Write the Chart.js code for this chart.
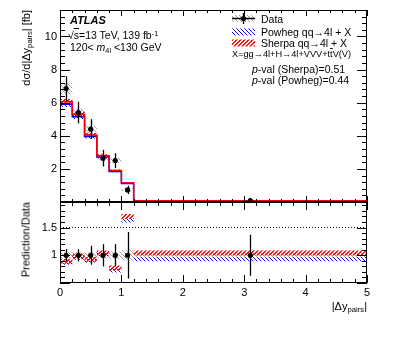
<!DOCTYPE html>
<html lang="en">
<head>
    <meta charset="UTF-8">
    <title>ATLAS |dy pairs|</title>
    <script src="https://cdn.jsdelivr.net/npm/chart.js@4"></script>
    <style>
        body { margin: 0; background: #fff; }
        #wrap { position: relative; width: 399px; height: 337px; font-family: "Liberation Sans", Arial, sans-serif; color: #000; }
        canvas { position: absolute; left: 0; }
        .t { position: absolute; white-space: nowrap; line-height: 1; }
        .t sub { font-size: 70%; vertical-align: -0.3em; line-height: 0; }
        .t sup { font-size: 70%; vertical-align: 0.45em; line-height: 0; }
        .ov { text-decoration: overline; }
        .rot { transform-origin: 0 0; transform: rotate(-90deg) translate(-100%, -50%); }
    </style>
</head>
<body>
<div id="wrap">
    <canvas id="mainChart" width="399" height="204" style="top:0"></canvas>
    <canvas id="ratioChart" width="399" height="137" style="top:200px"></canvas>

    <div class="t" style="left:70px;top:15px;font-size:11px;font-weight:bold;font-style:italic">ATLAS</div>
    <div class="t" style="left:68px;top:30px;font-size:10.5px">√<span class="ov">s</span>=13 TeV, 139 fb<sup>-1</sup></div>
    <div class="t" style="left:70px;top:42px;font-size:10.5px">120&lt; <i>m</i><sub>4l</sub> &lt;130 GeV</div>

    <div class="t" style="left:261px;top:14px;font-size:10.5px">Data</div>
    <div class="t" style="left:261px;top:27px;font-size:10.5px">Powheg qq→4l + X</div>
    <div class="t" style="left:261px;top:38px;font-size:10.5px">Sherpa qq→4l + X</div>
    <div class="t" style="left:232px;top:50px;font-size:9.2px">X=gg→4l+H→4l+VVV+t<span class="ov">t</span>V(V)</div>
    <div class="t" style="left:252px;top:64px;font-size:10.5px"><i>p</i>-val (Sherpa)=0.51</div>
    <div class="t" style="left:252px;top:75px;font-size:10.5px"><i>p</i>-val (Powheg)=0.44</div>

    <div class="t rot" style="left:26px;top:10px;font-size:11px">dσ/d|Δy<sub>pairs</sub>| [fb]</div>
    <div class="t rot" style="left:26px;top:202px;font-size:11px">Prediction/Data</div>
    <div class="t" style="right:32px;top:301px;font-size:11px">|Δy<sub>pairs</sub>|</div>
</div>

<script>
    // bins of |dy_pairs|
    const binEdges = [0, 0.2, 0.4, 0.6, 0.8, 1.0, 1.2, 5.0];
    const binCenters = [0.1, 0.3, 0.5, 0.7, 0.9, 1.1, 3.1];

    // upper panel, fb
    const dataVals = [6.85, 5.4, 4.4, 2.65, 2.5, 0.73, 0.08];
    const dataErr = [0.75, 0.65, 0.6, 0.5, 0.45, 0.25, 0.03];
    const dataSyst = [0.35, 0.25, 0.22, 0.15, 0.15, 0.08, 0.004];
    const sherpaVals = [6.05, 5.3, 4.05, 2.8, 1.9, 1.17, 0.083];
    const sherpaErr = [0.18, 0.15, 0.12, 0.08, 0.06, 0.04, 0.003];
    const powhegVals = [5.9, 5.15, 3.95, 2.72, 1.84, 1.12, 0.075];
    const powhegErr = [0.16, 0.14, 0.11, 0.07, 0.05, 0.03, 0.003];

    // lower panel, prediction / data
    const sherpaRatio = [0.89, 0.98, 0.93, 1.04, 0.77, 1.70, 1.04];
    const powhegRatio = [0.87, 0.96, 0.91, 1.02, 0.73, 1.63, 0.93];
    const sherpaRatioErr = [0.045, 0.045, 0.045, 0.045, 0.045, 0.045, 0.045];
    const powhegRatioErr = [0.04, 0.04, 0.04, 0.04, 0.04, 0.04, 0.04];
    const dataRatio = [1, 1, 1, 1, 1, 1, 1];
    const dataRatioErr = [0.11, 0.11, 0.17, 0.2, 0.2, 0.42, 0.37];
    const dataRatioSyst = [0.05, 0.05, 0.05, 0.06, 0.07, 0.1, 0.05];
    const ratioRefLine = 1.5;

    const mainYTicks = [2, 4, 6, 8, 10];
    const ratioYTicks = [1, 1.5];
    const xTicks = [0, 1, 2, 3, 4, 5];

    const FONT = { family: '"Liberation Sans", Arial, sans-serif', size: 11 };

    // pixel hatch tile, dir > 0 is "/" and dir < 0 is "\"
    function hatch(color, dir, w) {
        const s = 4;
        const c = document.createElement('canvas');
        c.width = s; c.height = s;
        const g = c.getContext('2d');
        g.fillStyle = color;
        for (let i = 0; i < s; i++) {
            for (let j = 0; j < w; j++) {
                const col = (i + j) % s;
                g.fillRect(col, dir > 0 ? s - 1 - i : i, 1, 1);
            }
        }
        return g.createPattern(c, 'repeat');
    }
    const redHatch = hatch('#ff1010', 1, 2);
    const blueHatch = hatch('#1010ff', -1, 1);
    const greyHatch = hatch('#a0a0a0', -1, 1);

    // histogram as stepped points on the bin edges
    function steps(vals) {
        return binEdges.map((e, i) => ({ x: e, y: vals[Math.min(i, vals.length - 1)] }));
    }
    const shift = (vals, err, sgn) => vals.map((v, i) => v + sgn * err[i]);

    function band(vals, err, pattern, order) {
        return [{
            data: steps(shift(vals, err, -1)), stepped: 'before', borderColor: 'transparent',
            pointRadius: 0, fill: false, order: order
        }, {
            data: steps(shift(vals, err, 1)), stepped: 'before', borderColor: 'transparent',
            pointRadius: 0, fill: '-1', backgroundColor: pattern, order: order
        }];
    }

    function points(vals, err) {
        return {
            data: binCenters.map((x, i) => ({ x: x, y: vals[i] })),
            yErr: err, showLine: false, pointRadius: 2.6, pointBackgroundColor: '#000',
            pointBorderColor: '#000', pointBorderWidth: 0, order: 1
        };
    }

    // error bars drawn just before the data markers
    const errorBars = {
        id: 'errorBars',
        beforeDatasetDraw(chart, args) {
            const ds = chart.data.datasets[args.index];
            if (!ds.yErr) return;
            const { ctx, chartArea: a, scales: { x, y } } = chart;
            ctx.save();
            ctx.beginPath();
            ctx.rect(a.left, a.top, a.right - a.left, a.bottom - a.top);
            ctx.clip();
            ctx.strokeStyle = '#000';
            ctx.lineWidth = 1.3;
            ds.data.forEach((p, i) => {
                const px = Math.round(x.getPixelForValue(p.x)) + 0.5;
                ctx.beginPath();
                ctx.moveTo(px, y.getPixelForValue(p.y - ds.yErr[i]));
                ctx.lineTo(px, y.getPixelForValue(p.y + ds.yErr[i]));
                ctx.stroke();
            });
            ctx.restore();
        }
    };

    // ROOT-like frame with inward ticks on all four sides
    function frame(spec) {
        return {
            id: 'frame',
            afterDraw(chart) {
                const { ctx, chartArea: a, scales: { x, y } } = chart;
                ctx.save();
                ctx.strokeStyle = '#000';
                ctx.lineWidth = 1;
                ctx.strokeRect(a.left + 0.5, a.top + 0.5, a.right - a.left - 1, a.bottom - a.top - 1);
                ctx.beginPath();
                const isMajor = (v, m) => Math.abs(v / m - Math.round(v / m)) < 1e-6;
                let n = Math.round((x.max - x.min) / spec.xMinor);
                for (let k = 0; k <= n; k++) {
                    const v = x.min + k * spec.xMinor;
                    const px = Math.round(x.getPixelForValue(v)) + 0.5;
                    const len = isMajor(v, spec.xMajor) ? spec.xMajLen : spec.xMinLen;
                    ctx.moveTo(px, a.bottom); ctx.lineTo(px, a.bottom - len);
                    ctx.moveTo(px, a.top); ctx.lineTo(px, a.top + len);
                }
                const y0 = Math.ceil(y.min / spec.yMinor - 1e-6) * spec.yMinor;
                n = Math.floor((y.max - y0) / spec.yMinor + 1e-6);
                for (let k = 0; k <= n; k++) {
                    const v = y0 + k * spec.yMinor;
                    const py = Math.round(y.getPixelForValue(v)) + 0.5;
                    const len = isMajor(v, spec.yMajor) ? spec.yMajLen : spec.yMinLen;
                    ctx.moveTo(a.left, py); ctx.lineTo(a.left + len, py);
                    ctx.moveTo(a.right, py); ctx.lineTo(a.right - len, py);
                }
                ctx.stroke();
                ctx.restore();
            }
        };
    }

    // legend boxes of the upper panel
    const legendBoxes = {
        id: 'legendBoxes',
        afterDraw(chart) {
            const ctx = chart.ctx;
            ctx.save();
            const box = (top, pat) => { ctx.fillStyle = pat; ctx.fillRect(232, top, 23, 7); };
            box(15, greyHatch);
            box(28.5, blueHatch);
            box(39.5, redHatch);
            ctx.strokeStyle = '#000';
            ctx.lineWidth = 1.3;
            ctx.beginPath();
            ctx.moveTo(232, 18.5); ctx.lineTo(255, 18.5);
            ctx.moveTo(243.5, 13); ctx.lineTo(243.5, 24);
            ctx.stroke();
            ctx.fillStyle = '#000';
            ctx.beginPath();
            ctx.arc(243.5, 18.5, 2.6, 0, Math.PI * 2);
            ctx.fill();
            ctx.restore();
        }
    };

    function scalesFor(yMin, yMax, yTicks, showX) {
        return {
            x: {
                type: 'linear', min: 0, max: 5, display: showX,
                afterBuildTicks: s => { s.ticks = xTicks.map(v => ({ value: v })); },
                afterFit: s => { s.height = showX ? 54 : 0; s.paddingLeft = 0; s.paddingRight = 0; },
                grid: { drawOnChartArea: false, drawTicks: false },
                border: { display: false },
                ticks: { font: FONT, color: '#000', padding: 3, maxRotation: 0, callback: v => String(v) }
            },
            y: {
                type: 'linear', min: yMin, max: yMax,
                afterBuildTicks: s => { s.ticks = yTicks.map(v => ({ value: v })); },
                afterFit: s => { s.width = 60; s.paddingTop = 0; s.paddingBottom = 0; },
                grid: { drawOnChartArea: false, drawTicks: false },
                border: { display: false },
                ticks: { font: FONT, color: '#000', padding: 3, callback: v => String(v) }
            }
        };
    }

    const common = {
        responsive: false,
        animation: false,
        events: [],
        plugins: { legend: { display: false }, tooltip: { enabled: false } }
    };

    new Chart(document.getElementById('mainChart'), {
        type: 'line',
        data: {
            datasets: [
                ...band(dataVals, dataSyst, greyHatch, 10),
                ...band(powhegVals, powhegErr, blueHatch, 9),
                ...band(sherpaVals, sherpaErr, redHatch, 8),
                { data: steps(powhegVals), stepped: 'before', borderColor: '#0000ff', borderWidth: 1.5, pointRadius: 0, fill: false, order: 5 },
                { data: steps(sherpaVals), stepped: 'before', borderColor: '#ff0000', borderWidth: 1.5, pointRadius: 0, fill: false, order: 4 },
                points(dataVals, dataErr)
            ]
        },
        options: {
            ...common,
            layout: { autoPadding: false, padding: { top: 10, right: 32, bottom: 2, left: 0 } },
            scales: scalesFor(0, 11.6, mainYTicks, false)
        },
        plugins: [errorBars, frame({ xMinor: 0.2, xMajor: 1, xMajLen: 6, xMinLen: 3, yMinor: 0.4, yMajor: 2, yMajLen: 10, yMinLen: 5 }), legendBoxes]
    });

    new Chart(document.getElementById('ratioChart'), {
        type: 'line',
        data: {
            datasets: [
                ...band(dataRatio, dataRatioSyst, greyHatch, 10),
                ...band(powhegRatio, powhegRatioErr, blueHatch, 9),
                ...band(sherpaRatio, sherpaRatioErr, redHatch, 8),
                { data: [{ x: 0, y: ratioRefLine }, { x: 5, y: ratioRefLine }], borderColor: '#000', borderWidth: 1, borderDash: [1, 2], pointRadius: 0, fill: false, order: 6 },
                points(dataRatio, dataRatioErr)
            ]
        },
        options: {
            ...common,
            layout: { autoPadding: false, padding: { top: 2, right: 32, bottom: 0, left: 0 } },
            scales: scalesFor(0.5, 1.96, ratioYTicks, true)
        },
        plugins: [errorBars, frame({ xMinor: 0.2, xMajor: 1, xMajLen: 8, xMinLen: 4, yMinor: 0.1, yMajor: 0.5, yMajLen: 10, yMinLen: 5 })]
    });
</script>
</body>
</html>
